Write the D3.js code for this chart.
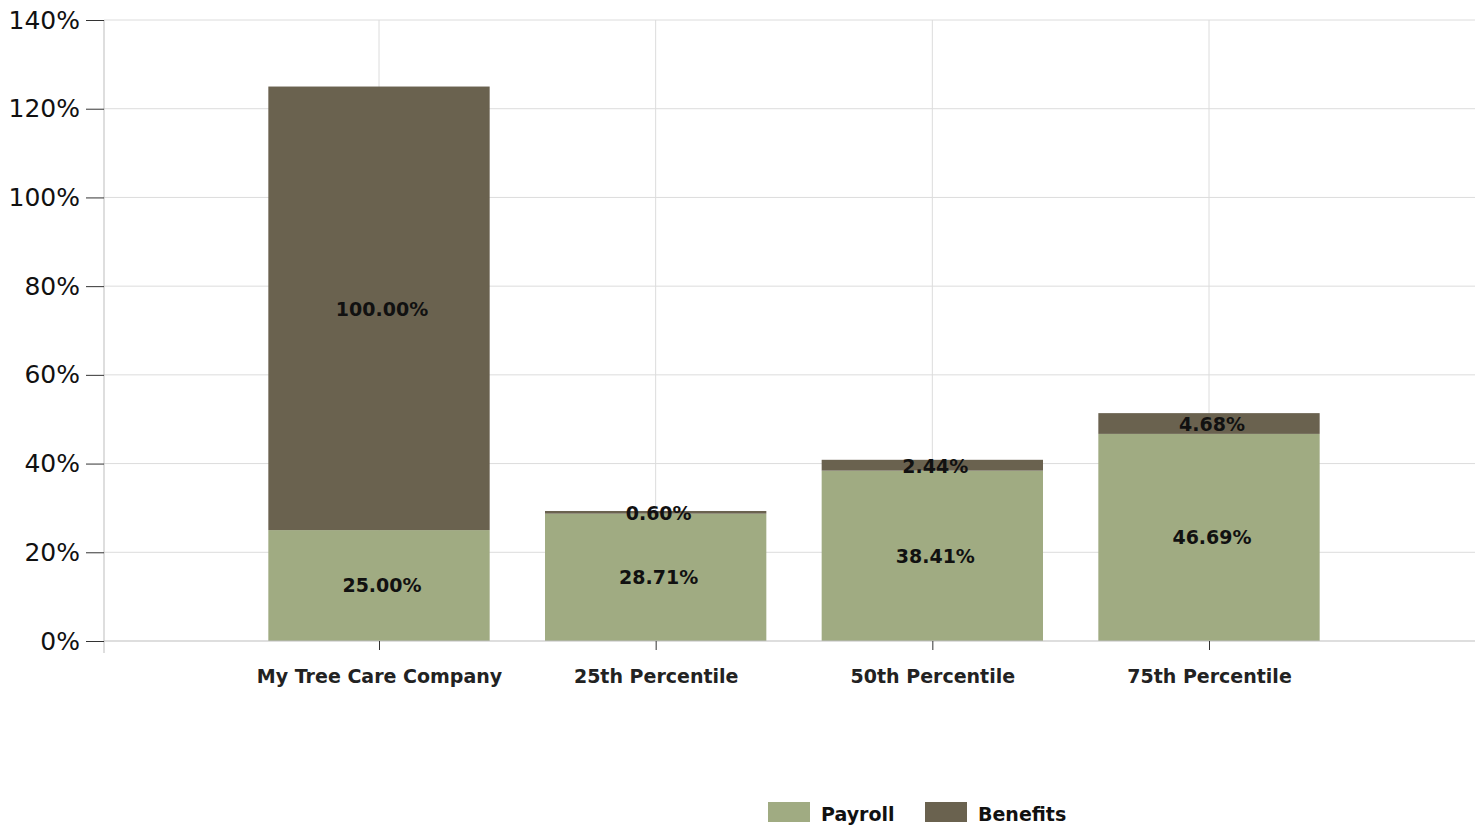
<!DOCTYPE html>
<html>
<head>
<meta charset="utf-8">
<script src="https://cdn.jsdelivr.net/npm/d3@7"></script>
<style>
  body { margin: 0; background: #fff; }
  svg { display: block; }
</style>
</head>
<body>
<svg id="chart" width="1475" height="826"></svg>
<script>
// data
const categories = ["My Tree Care Company", "25th Percentile", "50th Percentile", "75th Percentile"];
const payroll = [25.00, 28.71, 38.41, 46.69];
const benefits = [100.00, 0.60, 2.44, 4.68];
const yTicks = [0, 20, 40, 60, 80, 100, 120, 140];
const seriesNames = ["Payroll", "Benefits"];
const seriesColors = ["#a0ab82", "#6a624f"];

const svg = d3.select("#chart");

const plotLeft = 104, plotRight = 1475, plotTop = 20, plotBottom = 641;

// categories sit at 1..4 on a linear axis
const x = d3.scaleLinear().domain([1, 4]).range([379, 1209]);
const y = d3.scaleLinear().domain([0, 140]).range([plotBottom, plotTop]);
const barW = x(1.8) - x(1);

//gridlines
const grid = svg.append("g");
grid.selectAll("line.h")
    .data(yTicks.slice(1))
    .join("line")
    .attr("x1", plotLeft).attr("x2", plotRight)
    .attr("y1", d => y(d)).attr("y2", d => y(d))
    .attr("stroke", "#dcdcdc").attr("stroke-width", 1);
grid.selectAll("line.v")
    .data(categories)
    .join("line")
    .attr("x1", (d, i) => x(i + 1)).attr("x2", (d, i) => x(i + 1))
    .attr("y1", plotTop).attr("y2", plotBottom)
    .attr("stroke", "#dcdcdc").attr("stroke-width", 1);

//bars
const bars = svg.append("g");
categories.forEach((c, i) => {
    const cx = x(i + 1);
    bars.append("rect")
        .attr("x", cx - barW / 2).attr("width", barW)
        .attr("y", y(payroll[i])).attr("height", y(0) - y(payroll[i]))
        .attr("fill", seriesColors[0]);
    bars.append("rect")
        .attr("x", cx - barW / 2).attr("width", barW)
        .attr("y", y(payroll[i] + benefits[i])).attr("height", y(payroll[i]) - y(payroll[i] + benefits[i]))
        .attr("fill", seriesColors[1]);
});

//value labels
const labels = svg.append("g")
    .attr("font-family", "DejaVu Sans, Verdana, sans-serif")
    .attr("font-size", 19)
    .attr("font-weight", "bold")
    .attr("fill", "#111")
    .attr("text-anchor", "middle");
categories.forEach((c, i) => {
    const cx = x(i + 1) + 3;
    labels.append("text")
        .attr("x", cx)
        .attr("y", (y(0) + y(payroll[i])) / 2)
        .attr("dy", "0.36em")
        .text(payroll[i].toFixed(2) + "%");
    labels.append("text")
        .attr("x", cx)
        .attr("y", (y(payroll[i]) + y(payroll[i] + benefits[i])) / 2 + 1)
        .attr("dy", "0.36em")
        .text(benefits[i].toFixed(2) + "%");
});

//y axis
const yAxis = svg.append("g")
    .attr("transform", `translate(${plotLeft},0)`)
    .call(d3.axisLeft(y).tickValues(yTicks).tickFormat(d => d + "%").tickSize(18).tickPadding(6));
yAxis.select(".domain").attr("stroke", "#bdbdbd").attr("d", `M0,${plotTop}V${plotBottom + 12}`);
yAxis.selectAll(".tick line").attr("stroke", "#333");
yAxis.selectAll(".tick text")
    .attr("font-family", "DejaVu Sans, Verdana, sans-serif")
    .attr("font-size", 25)
    .attr("fill", "#111");

//x axis
const xAxis = svg.append("g")
    .attr("transform", `translate(0,${plotBottom})`)
    .call(d3.axisBottom(x).tickValues([1, 2, 3, 4]).tickFormat((d) => categories[d - 1]).tickSize(9).tickPadding(20));
xAxis.select(".domain").attr("stroke", "#bdbdbd").attr("d", `M${plotLeft},0H${plotRight}`);
xAxis.selectAll(".tick line").attr("stroke", "#333");
xAxis.selectAll(".tick text")
    .attr("font-family", "DejaVu Sans, Verdana, sans-serif")
    .attr("font-size", 19)
    .attr("font-weight", "bold")
    .attr("fill", "#222");

//legend
const legend = svg.append("g")
    .attr("font-family", "DejaVu Sans, Verdana, sans-serif")
    .attr("font-size", 19)
    .attr("font-weight", "bold")
    .attr("fill", "#111");
const legendX = [768, 925];
seriesNames.forEach((s, i) => {
    legend.append("rect")
        .attr("x", legendX[i]).attr("y", 802)
        .attr("width", 42).attr("height", 20)
        .attr("fill", seriesColors[i]);
    legend.append("text")
        .attr("x", legendX[i] + 53).attr("y", 821)
        .text(s);
});
</script>
</body>
</html>
